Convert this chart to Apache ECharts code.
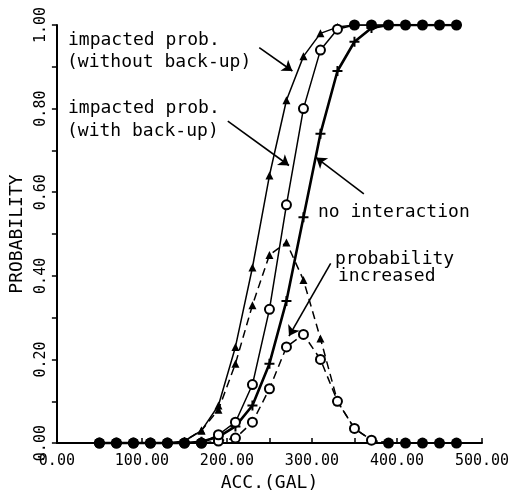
<!DOCTYPE html>
<html>
<head>
<meta charset="utf-8">
<script src="https://cdn.jsdelivr.net/npm/echarts@6/dist/echarts.min.js"></script>
<style>
  html, body { margin: 0; padding: 0; background: #fff; }
  #main { width: 521px; height: 497px; }
</style>
</head>
<body>
<div id="main"></div>
<script>
// acceleration (gal)
var acc = [50, 70, 90, 110, 130, 150, 170, 190, 210, 230, 250, 270, 290, 310, 330, 350, 370, 390, 410, 430, 450, 470]

// impacted prob. (without back-up) - solid, triangles
var withoutBackup = [0, 0, 0, 0, 0, 0.005, 0.03, 0.09, 0.23, 0.42, 0.64, 0.82, 0.925, 0.98, 0.995, 1, 1, 1, 1, 1, 1, 1]
// impacted prob. (with back-up) - solid, circles
var withBackup = [0, 0, 0, 0, 0, 0, 0, 0.02, 0.05, 0.14, 0.32, 0.57, 0.80, 0.94, 0.99, 1, 1, 1, 1, 1, 1, 1]
// no interaction - thick solid, crosses
var noInteraction = [0, 0, 0, 0, 0, 0, 0.003, 0.015, 0.04, 0.09, 0.19, 0.34, 0.54, 0.74, 0.89, 0.96, 0.993, 1, 1, 1, 1, 1]
// probability increased (without back-up) - dashed, triangles
var increasedWithout = [0, 0, 0, 0, 0, 0.005, 0.03, 0.08, 0.19, 0.33, 0.45, 0.48, 0.39, 0.25, 0.10, 0.035, 0.007, 0, 0, 0, 0, 0]
// probability increased (with back-up) - dashed, circles
var increasedWith = [0, 0, 0, 0, 0, 0, 0, 0.005, 0.012, 0.05, 0.13, 0.23, 0.26, 0.20, 0.10, 0.035, 0.007, 0, 0, 0, 0, 0]

var xTickLabels = ['0.00', '100.00', '200.00', '300.00', '400.00', '500.00']
var yTickLabels = ['0.00', '0.20', '0.40', '0.60', '0.80', '1.00']

var MONO = '"DejaVu Sans Mono", monospace'
var PLUS = 'path://M4,0h2v4h4v2h-4v4h-2v-4h-4v-2h4z'

function pts(ys) {
  return acc.map(function (x, i) { return [x, ys[i]] })
}

// where every curve sits on 0 or 1 the stacked marks print as a solid dot
function dotPts(ys) {
  return acc.map(function (x, i) {
    var p = { value: [x, ys[i]] }
    if (ys[i] === 0 || ys[i] === 1) {
      p.symbol = 'circle'
      p.symbolSize = 11
      p.itemStyle = { color: '#000' }
    }
    return p
  })
}

function arrow(from, to) {
  return [{ coord: from }, { coord: to }]
}

var myChart = echarts.init(document.getElementById('main'))
var option = {
  animation: false,
  backgroundColor: '#fff',
  grid: { left: 55, right: 39, top: 25, bottom: 46 },
  xAxis: {
    type: 'value',
    min: 0,
    max: 500,
    interval: 50,
    name: 'ACC.(GAL)',
    nameLocation: 'middle',
    nameGap: 30,
    nameTextStyle: { fontFamily: MONO, fontSize: 18, color: '#000' },
    axisLine: { lineStyle: { color: '#000', width: 2 } },
    axisTick: { inside: true, length: 5, lineStyle: { color: '#000', width: 1.5 } },
    splitLine: { show: false },
    axisLabel: {
      color: '#000',
      fontFamily: MONO,
      fontSize: 15,
      margin: 11,
      formatter: function (v) {
        return v % 100 === 0 ? xTickLabels[v / 100] : ''
      }
    }
  },
  yAxis: {
    type: 'value',
    min: 0,
    max: 1,
    interval: 0.1,
    name: 'PROBABILITY',
    nameLocation: 'middle',
    nameGap: 15,
    nameTextStyle: { fontFamily: MONO, fontSize: 18, color: '#000' },
    axisLine: { show: true, lineStyle: { color: '#000', width: 2 } },
    axisTick: { show: true, length: 5, lineStyle: { color: '#000', width: 1.5 } },
    splitLine: { show: false },
    axisLabel: {
      color: '#000',
      fontFamily: MONO,
      fontSize: 15,
      rotate: 90,
      margin: 8,
      formatter: function (v) {
        var k = Math.round(v * 10)
        return k % 2 === 0 ? yTickLabels[k / 2] : ''
      }
    }
  },
  series: [
    {
      name: 'without back-up',
      type: 'line',
      data: pts(withoutBackup),
      symbol: 'triangle',
      symbolSize: 8,
      lineStyle: { color: '#000', width: 1.5 },
      itemStyle: { color: '#000' },
      markLine: {
        silent: true,
        symbol: ['none', 'arrow'],
        symbolSize: 10,
        label: { show: false },
        lineStyle: { color: '#000', width: 1.6, type: 'solid' },
        data: [
          arrow([238, 0.946], [277, 0.89]),
          arrow([201, 0.77], [273, 0.664]),
          arrow([361, 0.596], [305, 0.683]),
          arrow([322, 0.43], [273, 0.256])
        ]
      }
    },
    {
      name: 'no interaction',
      type: 'line',
      data: pts(noInteraction),
      symbol: PLUS,
      symbolSize: 10,
      lineStyle: { color: '#000', width: 2.6 },
      itemStyle: { color: '#000' }
    },
    {
      name: 'increased (without back-up)',
      type: 'line',
      data: pts(increasedWithout),
      symbol: 'triangle',
      symbolSize: 8,
      lineStyle: { color: '#000', width: 1.5, type: [8, 5] },
      itemStyle: { color: '#000' }
    },
    {
      name: 'increased (with back-up)',
      type: 'line',
      data: dotPts(increasedWith),
      symbol: 'emptyCircle',
      symbolSize: 9,
      lineStyle: { color: '#000', width: 1.5, type: [8, 5] },
      itemStyle: { color: '#000', borderWidth: 1.5 }
    },
    {
      name: 'with back-up',
      type: 'line',
      data: dotPts(withBackup),
      symbol: 'emptyCircle',
      symbolSize: 9,
      lineStyle: { color: '#000', width: 1.5 },
      itemStyle: { color: '#000', borderWidth: 1.5 }
    }
  ],
  graphic: [
    { type: 'text', x: 68, y: 40, style: { text: 'impacted prob.', font: '18px ' + MONO, fill: '#000', verticalAlign: 'middle' } },
    { type: 'text', x: 67, y: 62, style: { text: '(without back-up)', font: '18px ' + MONO, fill: '#000', verticalAlign: 'middle' } },
    { type: 'text', x: 68, y: 108, style: { text: 'impacted prob.', font: '18px ' + MONO, fill: '#000', verticalAlign: 'middle' } },
    { type: 'text', x: 67, y: 131, style: { text: '(with back-up)', font: '18px ' + MONO, fill: '#000', verticalAlign: 'middle' } },
    { type: 'text', x: 318, y: 212, style: { text: 'no interaction', font: '18px ' + MONO, fill: '#000', verticalAlign: 'middle' } },
    { type: 'text', x: 335, y: 259, style: { text: 'probability', font: '18px ' + MONO, fill: '#000', verticalAlign: 'middle' } },
    { type: 'text', x: 338, y: 276, style: { text: 'increased', font: '18px ' + MONO, fill: '#000', verticalAlign: 'middle' } }
  ]
}
myChart.setOption(option)
</script>
</body>
</html>
